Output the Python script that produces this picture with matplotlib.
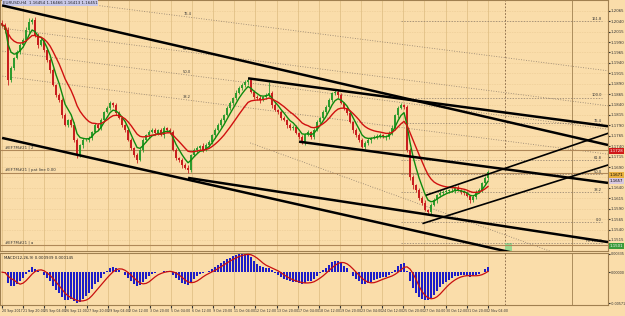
import matplotlib.pyplot as plt
import numpy as np
import pandas as pd

# EURUSD H4 closes, in pips above 1.1500
closes = [531, 519, 399, 428, 452, 466, 483, 495, 519, 538, 543, 507, 483, 495, 471, 447,
          423, 387, 363, 351, 315, 291, 303, 291, 255, 219, 243, 255, 255, 260, 274, 291,
          284, 303, 322, 332, 344, 339, 320, 308, 291, 279, 255, 236, 219, 207, 231, 255,
          267, 274, 279, 272, 279, 267, 284, 279, 274, 231, 212, 207, 195, 188, 183, 219,
          231, 236, 241, 231, 243, 250, 267, 279, 291, 303, 315, 332, 344, 356, 368, 380,
          387, 394, 399, 370, 358, 356, 351, 358, 363, 368, 339, 327, 322, 308, 303, 291,
          284, 286, 272, 262, 250, 267, 274, 262, 279, 298, 308, 322, 334, 351, 368, 370,
          363, 344, 332, 320, 298, 279, 267, 255, 238, 248, 255, 260, 262, 265, 267, 262,
          262, 272, 284, 315, 332, 339, 334, 231, 166, 147, 135, 116, 104, 87, 82, 99,
          111, 123, 128, 130, 133, 135, 135, 140, 135, 130, 128, 121, 111, 118, 130, 135,
          152, 164, 178]
first_open = 536
wick_up = [6, 4, 8, 5, 3, 6, 4, 5, 7, 9, 5, 8, 4, 6, 3, 5, 4, 6, 3, 5,
           4, 6, 3, 5, 7, 4, 3, 5, 6, 4, 3, 5, 4, 6, 3, 4, 5, 3, 6, 4,
           5, 3, 6, 4, 3, 5, 4, 6, 3, 5, 4, 6, 3, 5, 4, 3, 6, 4, 5, 3,
           5, 4, 6, 3, 5, 4, 3, 6, 4, 5, 3, 5, 4, 6, 3, 5, 4, 3, 6, 4,
           5, 4, 6, 3, 5, 4, 6, 3, 5, 26, 4, 6, 3, 5, 4, 3, 6, 4, 5, 3,
           5, 4, 6, 3, 5, 4, 3, 6, 4, 5, 3, 5, 4, 6, 3, 5, 4, 3, 6, 4,
           5, 4, 6, 3, 5, 4, 6, 3, 5, 4, 6, 3, 5, 4, 3, 6, 4, 5, 3, 5,
           4, 6, 3, 5, 4, 3, 6, 4, 5, 3, 5, 4, 6, 3, 5, 4, 3, 6, 4, 5,
           3, 5, 4]
wick_dn = [4, 7, 12, 4, 6, 3, 5, 4, 3, 6, 4, 5, 7, 3, 5, 4, 6, 3, 5, 4,
           6, 3, 5, 4, 5, 8, 4, 6, 3, 5, 4, 3, 6, 4, 5, 3, 5, 4, 6, 3,
           5, 4, 3, 6, 4, 8, 3, 5, 4, 6, 3, 5, 4, 3, 6, 4, 5, 3, 5, 4,
           6, 3, 8, 4, 3, 6, 4, 5, 3, 5, 4, 6, 3, 5, 4, 3, 6, 4, 5, 3,
           5, 4, 6, 3, 5, 4, 6, 3, 5, 4, 6, 3, 5, 4, 3, 6, 4, 5, 3, 5,
           4, 6, 3, 5, 4, 3, 6, 4, 5, 3, 5, 4, 6, 3, 5, 4, 3, 6, 4, 5,
           3, 5, 4, 6, 3, 5, 4, 3, 6, 4, 5, 4, 6, 3, 5, 4, 6, 9, 5, 4,
           6, 3, 5, 4, 3, 6, 4, 5, 3, 5, 4, 6, 3, 5, 4, 3, 6, 4, 5, 3,
           5, 4, 6]

time_labels = ["20 Sep 2017", "21 Sep 20:00", "25 Sep 04:00", "26 Sep 12:00", "27 Sep 20:00",
               "29 Sep 04:00", "2 Oct 12:00", "3 Oct 20:00", "5 Oct 04:00", "6 Oct 12:00",
               "9 Oct 20:00", "11 Oct 04:00", "12 Oct 12:00", "13 Oct 20:00", "17 Oct 04:00",
               "18 Oct 12:00", "19 Oct 20:00", "23 Oct 04:00", "24 Oct 12:00", "25 Oct 20:00",
               "27 Oct 04:00", "30 Oct 12:00", "31 Oct 20:00", "2 Nov 04:00"]

# trend lines: (bar, pips) -> (bar, pips)
thick_lines = [((0, 578), (202, 243)),
               ((82, 403), (202, 288)),
               ((0, 260), (202, -67)),
               ((62, 164), (202, 10)),
               ((99, 251), (202, 152))]
channel_lines = [((141.6, 123), (202, 271)),
                 ((140.4, 55), (202, 195))]
# dotted fibo channel lines and the level printed on each
dotted_lines = [((-0.7, 608), (202, 421)),
                ((-0.7, 524), (202, 337)),
                ((-0.7, 469), (202, 281)),
                ((-0.7, 409), (202, 221)),
                ((82.7, 248), (202, -62))]
dotted_labels = ["76.4", "61.8", "50.0", "38.2", ""]
hlines = [(231, "#EF7M#21 | 2"), (176, "#EF7M#21 | pat line 0.00"), (3, "#EF7M#21 | a")]
# fibo expansion levels (pips) and their labels
fib_pips = [540, 356, 296, 207, 173, 130, 58, 8]
fib_labels = ["161.8", "100.0", "76.4", "61.8", "50.0", "38.2", "0.0", "FE 161.8"]
# price tags on the right scale: (pips, fill, text colour)
tags = [(228, "#D01818", "white"), (171, "#E8B040", "black"), (157, "#D8C8E0", "black"),
        (1, "#3A9A3A", "white")]
macd_fast, macd_slow, macd_sig = 6, 13, 5

BG = "#FADDAA"
GRID = "#DDBB80"
FRAME = "#A08050"
BULL = "#2E9B2E"
BEAR = "#C81E1E"


def px(p):
    return 1.15 + np.asarray(p, dtype=float) / 10000.0


c = np.array(closes, dtype=float)
o = np.r_[first_open, c[:-1]]
hi = np.maximum(o, c) + np.array(wick_up)
lo = np.minimum(o, c) - np.array(wick_dn)
idx = np.arange(len(c))
cols = np.where(c >= o, BULL, BEAR)

fig = plt.figure(figsize=(6.25, 3.16), dpi=100, facecolor=BG)
ax = fig.add_axes([0, 65 / 316, 608 / 625, 251 / 316], facecolor=BG)
mx = fig.add_axes([0, 11 / 316, 608 / 625, 52 / 316], facecolor=BG)

xlim = (-0.7, 202)
tick_pos = np.arange(len(time_labels)) * 7.04
for a in (ax, mx):
    a.set_xlim(*xlim)
    for t in tick_pos:
        a.axvline(t, color=GRID, lw=0.5, zorder=0)
    a.axvline(167.6, color="#806040", lw=0.6, ls=(0, (2, 2)), zorder=1)
    a.axvline(190, color="#A08050", lw=0.6, zorder=1)
    for s in a.spines.values():
        s.set_color(FRAME)
        s.set_linewidth(0.8)

ax.set_ylim(px(-11.4), px(591))
yt = np.arange(1.2065, 1.150, -0.0025)
for y in yt:
    ax.axhline(y, color=GRID, lw=0.4, ls=(0, (1, 2)), zorder=0)

# candles
ax.vlines(idx, px(lo), px(hi), colors=cols, lw=0.6, zorder=3)
body_lo = px(np.minimum(o, c))
body_h = np.maximum(px(np.maximum(o, c)) - body_lo, 0.00006)
ax.bar(idx, body_h, bottom=body_lo, width=0.62, color=cols, lw=0, zorder=3)

# moving averages
s = pd.Series(px(c))
ax.plot(idx, s.ewm(span=5, adjust=False).mean(), color="#0E8A0E", lw=1.0, zorder=4)
ax.plot(idx, s.ewm(span=13, adjust=False).mean(), color="#D01010", lw=1.0, zorder=4)

# trend lines
for (x0, y0), (x1, y1) in thick_lines:
    ax.plot([x0, x1], px([y0, y1]), color="black", lw=1.8, zorder=5, solid_capstyle="butt")
for (x0, y0), (x1, y1) in channel_lines:
    ax.plot([x0, x1], px([y0, y1]), color="black", lw=1.2, zorder=5)
for ((x0, y0), (x1, y1)), lab in zip(dotted_lines, dotted_labels):
    ax.plot([x0, x1], px([y0, y1]), color="#8A7A6A", lw=0.6, ls=(0, (1, 2)), zorder=2)
    if lab:
        yl = y0 + (y1 - y0) * (61.7 - x0) / (x1 - x0)
        ax.text(61.7, px(yl + 3), lab, fontsize=2.6, color="#333333", ha="center", va="bottom")

for p, lab in hlines:
    ax.axhline(px(p), color="#B08858", lw=0.8, zorder=2)
    ax.text(1, px(p + 2), lab, fontsize=2.8, color="#333333", va="bottom")

for p, lab in zip(fib_pips, fib_labels):
    ax.plot([133, 200], [px(p), px(p)], color="#8A7A6A", lw=0.5, ls=(0, (2, 2)), zorder=2)
    ax.text(200, px(p + 1), lab, fontsize=2.6, color="#333333", ha="right", va="bottom")

# small green marker near the bottom of the chart
ax.bar(168.8, px(8) - px(-11.4), bottom=px(-11.4), width=2.3, color="#9AD890", lw=0, zorder=1)

ax.text(0.2, px(584), "EURUSD,H4  1.16454 1.16466 1.16413 1.16451", fontsize=2.9,
        color="#222222", va="center",
        bbox=dict(boxstyle="square,pad=0.15", fc="#C8C8E8", ec="none"))

ax.yaxis.tick_right()
ax.set_yticks(yt)
ax.set_yticklabels([f"{v:.4f}" for v in yt], fontsize=2.8)
ax.tick_params(axis="y", length=1.2, pad=0.5, colors="#333333")
ax.set_xticks([])
for p, fc, tc in tags:
    ax.text(1.003, px(p), f"{px(p):.4f}", transform=ax.get_yaxis_transform(), fontsize=2.8,
            color=tc, va="center", ha="left",
            bbox=dict(boxstyle="square,pad=0.2", fc=fc, ec="none"))

# MACD
fast = s.ewm(span=macd_fast, adjust=False).mean()
slow = s.ewm(span=macd_slow, adjust=False).mean()
macd = fast - slow
signal = macd.rolling(macd_sig, min_periods=1).mean()
mx.bar(idx, macd, width=0.55, color="#1C1CC8", lw=0, zorder=3)
mx.plot(idx, signal, color="#C81010", lw=0.9, zorder=4)
mlo, mhi = macd.min(), macd.max()
mx.set_ylim(mlo * 1.05, mhi * 1.05)
mx.yaxis.tick_right()
mx.set_yticks([mhi, 0, mlo])
mx.set_yticklabels([f"{mhi:.5f}", "0.00000", f"{mlo:.5f}"], fontsize=2.4)
mx.tick_params(axis="y", length=1.2, pad=0.5, colors="#333333")
mx.set_xticks(tick_pos)
mx.set_xticklabels(time_labels, fontsize=2.3, ha="left")
mx.tick_params(axis="x", length=2, pad=1, colors="#333333")
mx.text(0.5, mhi * 0.8, f"MACD(12,26,9) {macd.iloc[-1]:.6f} {signal.iloc[-1]:.6f}",
        fontsize=2.8, color="#222222", va="center")

fig.savefig("out.png", dpi=100, facecolor=BG)
